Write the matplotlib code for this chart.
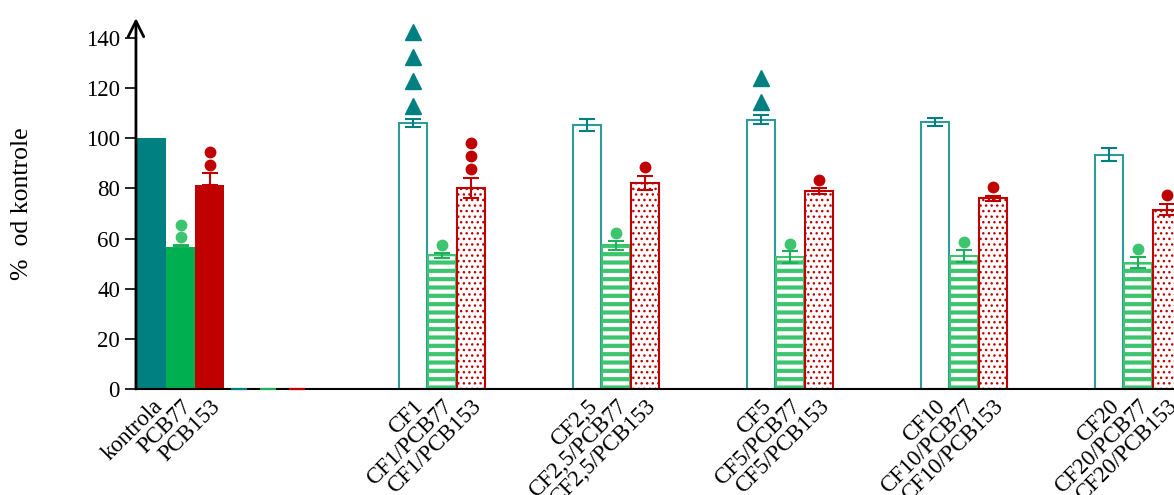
import numpy as np
import matplotlib
matplotlib.use('Agg')
import matplotlib.pyplot as plt

plt.rcParams['font.family'] = ['Liberation Serif', 'DejaVu Serif']

# --- data ---
group_pos = [0, 3, 9, 15, 21, 27, 33]

tick_labels = ['kontrola', 'PCB77', 'PCB153',
               '', '', '',
               'CF1', 'CF1/PCB77', 'CF1/PCB153',
               'CF2,5', 'CF2,5/PCB77', 'CF2,5/PCB153',
               'CF5', 'CF5/PCB77', 'CF5/PCB153',
               'CF10', 'CF10/PCB77', 'CF10/PCB153',
               'CF20', 'CF20/PCB77', 'CF20/PCB153']

# series: CF / control, +PCB77, +PCB153 (one value per group)
cf_vals = [100, 0, 106.2, 105.4, 107.5, 106.7, 93.5]
cf_err = [0, 0, 1.6, 2.4, 1.7, 1.6, 2.5]
pcb77_vals = [56.5, 0, 53.3, 57.3, 52.6, 53.2, 50.4]
pcb77_err = [1.0, 0, 1.0, 1.8, 2.4, 2.4, 2.3]
pcb153_vals = [81.5, 0, 80.3, 82.3, 78.9, 76.1, 71.6]
pcb153_err = [4.5, 0, 4.0, 2.8, 1.3, 1.0, 2.3]

# number of significance markers above each bar
cf_sig = [0, 0, 4, 0, 2, 0, 0]
pcb77_sig = [2, 0, 1, 1, 1, 1, 1]
pcb153_sig = [2, 0, 3, 1, 1, 1, 1]

teal = '#008080'
teal_edge = '#2E9A9A'
green = '#00B050'
green_light = '#3DC46E'
red = '#C00000'

fig = plt.figure(figsize=(11.74, 4.95), dpi=100)
ax = fig.add_axes([0.1158, 0.2141, 0.8842, 0.7495])

width = 1.0
x0 = np.array(group_pos, dtype=float)
series = [
    (x0, cf_vals, cf_err, cf_sig, teal, teal_edge, '', '^', teal, 9.8, 5.2),
    (x0 + 1, pcb77_vals, pcb77_err, pcb77_sig, green, green_light, '--', 'o', green_light, 5.1, 3.0),
    (x0 + 2, pcb153_vals, pcb153_err, pcb153_sig, red, red, '...', 'o', red, 5.2, 3.3),
]

for xs, vals, errs, sig, solid, edge, hatch, mk, mcol, step, gap in series:
    hatch_lw = 3.0 if hatch == '--' else 1.0
    # first group: solid bars, upper error bars only
    with plt.rc_context({'hatch.linewidth': hatch_lw}):
        ax.bar(xs[:2], vals[:2], width=width, color=solid, linewidth=0, zorder=2)
        ax.bar(xs[2:], vals[2:], width=width - 0.04, facecolor='white', edgecolor=edge,
               hatch=hatch, linewidth=1.5, zorder=2)
    lower = [0] + list(errs[1:])
    ecol = '#1FAF5A' if solid == green else solid
    for i in range(len(vals)):
        if i == 0 and errs[0] == 0:
            continue
        ax.errorbar(xs[i], vals[i], yerr=[[lower[i]], [errs[i]]], fmt='none',
                    ecolor=ecol, elinewidth=1.5, capsize=6, capthick=1.5,
                    zorder=6 if i == 1 else 3, clip_on=False)
    for i in range(len(vals)):
        for k in range(sig[i]):
            y = vals[i] + errs[i] + gap + k * step
            ax.plot(xs[i], y, marker=mk, color=mcol, markersize=11.5 if mk == '^' else 7.5,
                    linestyle='none', clip_on=False, zorder=4)

ticks = []
for g in group_pos:
    ticks += [g, g + 1, g + 2]
ax.set_xticks(ticks)
ax.set_xticklabels(tick_labels, rotation=45, ha='right', va='top',
                   rotation_mode='anchor', fontsize=16.5)
ax.tick_params(axis='x', length=0, pad=5)

ax.set_xlim(-0.55, 35.24)
ax.set_ylim(0, 148)
ax.set_yticks(np.arange(0, 141, 20))
ax.tick_params(axis='y', labelsize=16.5, length=8, width=1.2, direction='out')
ax.set_ylabel('%  od kontrole', fontsize=18.5, labelpad=38)

for s in ['top', 'right']:
    ax.spines[s].set_visible(False)
ax.spines['left'].set_visible(False)
ax.spines['bottom'].set_linewidth(1.5)
ax.spines['bottom'].set_zorder(5)

# y axis with open arrow head
ax.annotate('', xy=(0, 1.0), xytext=(0, 0), xycoords='axes fraction',
            arrowprops=dict(arrowstyle='->', lw=2, color='black', mutation_scale=28,
                            shrinkA=0, shrinkB=0))

fig.savefig('out.png', dpi=100)
